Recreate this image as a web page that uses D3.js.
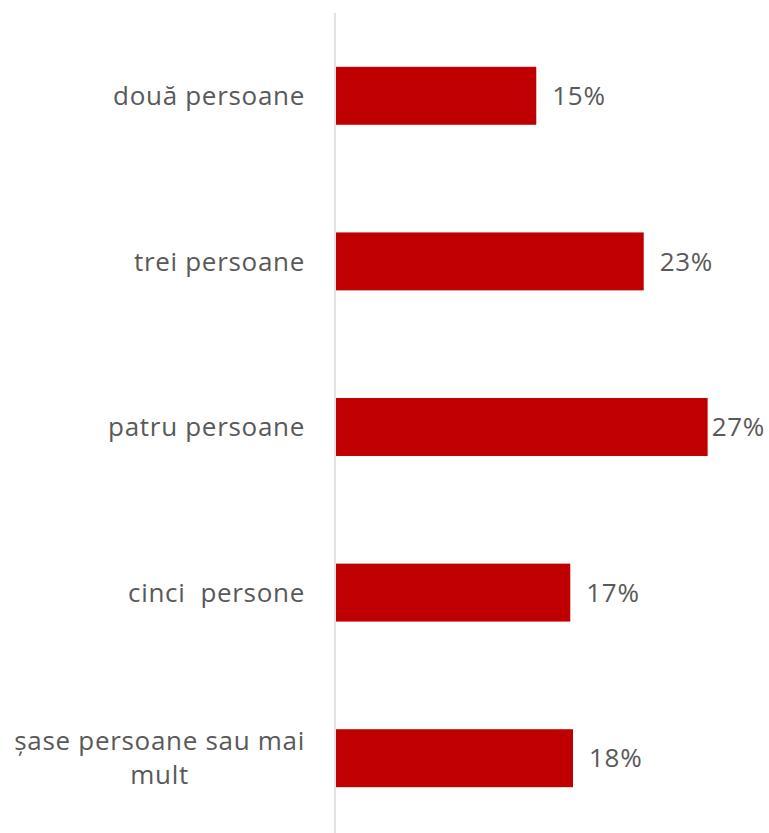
<!DOCTYPE html>
<meta charset="utf-8">
<script src="https://d3js.org/d3.v7.min.js"></script>
<style>
  body { margin: 0; background: #fff; }
  text { font-family: "Open Sans", sans-serif; fill: #595959; white-space: pre; letter-spacing: 0.7px; }
</style>
<div id="chart"></div>
<script>
// categories, top to bottom
var categories = ["două persoane", "trei persoane", "patru persoane", "cinci  persone", "șase persoane sau mai mult"];
// category labels split into lines as shown
var categoryLines = [["două persoane"], ["trei persoane"], ["patru persoane"], ["cinci  persone"], ["șase persoane sau mai", "mult"]];
// share of respondents (%)
var values = [14.8, 22.7, 27.4, 17.3, 17.5];
var valueLabels = ["15%", "23%", "27%", "17%", "18%"];

var W = 769, H = 833;
var svg = d3.select("#chart").append("svg")
    .attr("width", W).attr("height", H);

var x0 = 335;
var x = d3.scaleLinear().domain([0, 30]).range([x0, x0 + 408]);
var y = d3.scaleBand().domain(categories).range([13, 841])
    .paddingInner(0.65).paddingOuter(0.325);

// bars
svg.append("g").selectAll("rect")
    .data(categories)
    .enter().append("rect")
    .attr("x", x(0) + 1)
    .attr("y", function (d) { return y(d); })
    .attr("width", function (d, i) { return x(values[i]) - x(0) - 1; })
    .attr("height", y.bandwidth())
    .attr("fill", "#c00000");

// vertical axis line
svg.append("line")
    .attr("x1", x0).attr("x2", x0)
    .attr("y1", 13).attr("y2", 841)
    .attr("stroke", "#d9d9d9").attr("stroke-width", 1.5);

// category labels
var lineH = 34;
var cat = svg.append("g").selectAll("text")
    .data(categories)
    .enter().append("text")
    .attr("font-size", 26)
    .attr("text-anchor", "middle");
cat.each(function (d, i) {
    var t = d3.select(this);
    var lines = categoryLines[i];
    var cy = y(d) + y.bandwidth() / 2;
    lines.forEach(function (ln, j) {
        t.append("tspan").attr("y", cy + (j - (lines.length - 1) / 2) * lineH).attr("dy", "0.35em").text(ln);
    });
});
// right-align the label block at x=305, lines centred within it
cat.each(function () {
    var t = d3.select(this);
    var wMax = 0;
    t.selectAll("tspan").each(function () { wMax = Math.max(wMax, this.getComputedTextLength()); });
    t.selectAll("tspan").attr("x", 305 - wMax / 2);
});

// value labels
svg.append("g").selectAll("text")
    .data(categories)
    .enter().append("text")
    .attr("font-size", 26)
    .attr("y", function (d) { return y(d) + y.bandwidth() / 2; })
    .attr("dy", "0.35em")
    .text(function (d, i) { return valueLabels[i]; })
    .attr("x", function (d, i) {
        var w = this.getComputedTextLength();
        return Math.min(x(values[i]) + 16, W - w - 4);
    });
</script>
